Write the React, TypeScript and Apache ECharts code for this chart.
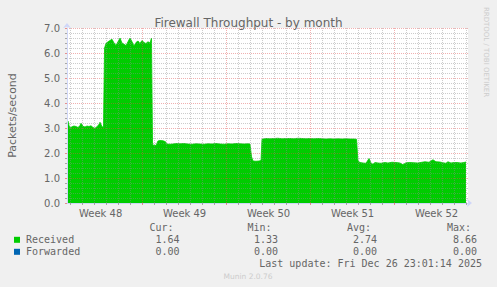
import React, { useEffect, useRef } from 'react';
import * as echarts from 'echarts';

const chartTitle = 'Firewall Throughput - by month';
const yAxisName = 'Packets/second';
const yMin = 0;
const yMax = 7;
const yStep = 1;
const xMin = 0;
const xMax = 33.42; // days shown

// day grid lines (days from left edge of the graph)
const dayLines = [0.3, 1.3, 2.3, 3.3, 4.3, 5.3, 7.3, 8.3, 9.3, 10.3, 11.3, 12.3, 14.3, 15.3, 16.3, 17.3, 18.3, 19.3, 21.3, 22.3, 23.3, 24.3, 25.3, 26.3, 28.3, 29.3, 30.3, 31.3, 32.3, 33.3];
const weekLines = [6.3, 13.3, 20.3, 27.3];
const weekLabelPos = [2.8, 9.8, 16.8, 23.8, 30.8];
const weekLabels = ['Week 48', 'Week 49', 'Week 50', 'Week 51', 'Week 52'];

// Received packets/second: [day, value]
const received: [number, number][] = [
  [0.00, 3.20], [0.08, 3.28], [0.17, 3.10], [0.25, 3.00], [0.42, 3.05], [0.58, 3.08], [0.75, 3.06], [0.92, 3.02],
  [1.08, 3.10], [1.17, 3.19], [1.33, 3.07], [1.50, 3.04], [1.67, 3.08], [1.83, 3.06], [2.00, 3.09], [2.17, 3.02],
  [2.33, 2.99], [2.50, 3.05], [2.67, 3.15], [2.75, 3.23], [2.92, 3.05], [3.04, 3.03], [3.13, 6.20], [3.25, 6.38],
  [3.42, 6.45], [3.58, 6.50], [3.75, 6.55], [3.92, 6.40], [4.08, 6.30], [4.25, 6.45], [4.42, 6.60], [4.58, 6.40],
  [4.75, 6.35], [4.92, 6.30], [5.08, 6.45], [5.25, 6.60], [5.42, 6.45], [5.58, 6.28], [5.75, 6.42], [5.92, 6.48],
  [6.08, 6.38], [6.25, 6.50], [6.42, 6.42], [6.58, 6.38], [6.75, 6.45], [6.92, 6.40], [7.04, 6.60], [7.13, 2.32],
  [7.42, 2.30], [7.58, 2.48], [7.75, 2.50], [8.00, 2.49], [8.21, 2.45], [8.29, 2.36], [8.58, 2.35], [8.83, 2.36],
  [9.08, 2.38], [9.42, 2.37], [9.75, 2.38], [10.08, 2.36], [10.42, 2.35], [10.75, 2.37], [11.08, 2.36], [11.42, 2.35],
  [11.75, 2.37], [12.08, 2.36], [12.42, 2.38], [12.75, 2.36], [13.08, 2.35], [13.42, 2.37], [13.75, 2.36], [14.08, 2.38],
  [14.42, 2.37], [14.75, 2.36], [15.08, 2.37], [15.25, 2.36], [15.38, 1.85], [15.50, 1.68], [15.75, 1.67], [16.00, 1.68],
  [16.17, 1.70], [16.25, 2.55], [16.58, 2.58], [16.92, 2.57], [17.25, 2.58], [17.58, 2.59], [17.92, 2.57], [18.25, 2.58],
  [18.58, 2.58], [18.92, 2.57], [19.25, 2.59], [19.58, 2.58], [19.92, 2.57], [20.25, 2.58], [20.58, 2.57], [20.92, 2.58],
  [21.25, 2.57], [21.58, 2.56], [21.92, 2.57], [22.25, 2.56], [22.58, 2.57], [22.92, 2.56], [23.25, 2.57], [23.58, 2.56],
  [23.92, 2.56], [24.13, 2.55], [24.25, 1.68], [24.42, 1.62], [24.67, 1.60], [24.92, 1.59], [25.17, 1.78], [25.33, 1.60],
  [25.50, 1.55], [25.67, 1.62], [25.92, 1.60], [26.17, 1.59], [26.50, 1.62], [26.75, 1.60], [27.08, 1.63], [27.42, 1.62],
  [27.75, 1.60], [28.00, 1.53], [28.25, 1.61], [28.58, 1.62], [28.92, 1.61], [29.25, 1.60], [29.58, 1.63], [29.83, 1.65],
  [30.17, 1.63], [30.50, 1.73], [30.75, 1.65], [31.08, 1.64], [31.33, 1.61], [31.58, 1.59], [31.75, 1.65], [32.00, 1.60],
  [32.25, 1.62], [32.50, 1.62], [32.83, 1.60], [33.08, 1.62], [33.25, 1.64],
];

const legendNames = ['Received', 'Forwarded'];
const legendColors = ['#00cc00', '#0066b3'];
const statHeaders = ['Cur:', 'Min:', 'Avg:', 'Max:'];
const curValues = ['1.64', '0.00'];
const minValues = ['1.33', '0.00'];
const avgValues = ['2.74', '0.00'];
const maxValues = ['8.66', '0.00'];
const lastUpdate = 'Last update: Fri Dec 26 23:01:14 2025';
const footer = 'Munin 2.0.76';
const sideText = 'RRDTOOL / TOBI OETIKER';

const FONT = '#666666';
const AXIS = '#cfd6f8';
const MINOR = 'rgba(143,143,143,0.45)';
const MAJOR = 'rgba(222,79,79,0.45)';
const SANS = 'DejaVu Sans';
const MONO = 'DejaVu Sans Mono';

export default function App() {
  const ref = useRef<HTMLDivElement>(null);
  useEffect(() => {
    if (!ref.current) return;
    const chart = echarts.init(ref.current, undefined, { renderer: 'svg' });

    const statCols = [
      { header: statHeaders[0], values: curValues, hx: 173.5, vx: 179.5 },
      { header: statHeaders[1], values: minValues, hx: 271.5, vx: 278 },
      { header: statHeaders[2], values: avgValues, hx: 371, vx: 377 },
      { header: statHeaders[3], values: maxValues, hx: 471, vx: 477 },
    ];
    const rowY = [239.5, 251.5];
    const graphics: any[] = [];
    statCols.forEach((c) => {
      graphics.push({ type: 'text', x: c.hx, y: 227.5, style: { text: c.header, fill: FONT, font: `10px "${MONO}"`, textAlign: 'right', textVerticalAlign: 'middle' } });
      c.values.forEach((v, i) => {
        graphics.push({ type: 'text', x: c.vx, y: rowY[i], style: { text: v, fill: FONT, font: `10px "${MONO}"`, textAlign: 'right', textVerticalAlign: 'middle' } });
      });
    });
    legendNames.forEach((n, i) => {
      graphics.push({ type: 'rect', shape: { x: 14, y: rowY[i] - 2.7, width: 6, height: 6 }, style: { fill: legendColors[i] } });
      graphics.push({ type: 'text', x: 26, y: rowY[i], style: { text: n, fill: FONT, font: `10px "${MONO}"`, textAlign: 'left', textVerticalAlign: 'middle' } });
    });
    graphics.push({ type: 'text', x: 482, y: 263.5, style: { text: lastUpdate, fill: FONT, font: `10px "${MONO}"`, textAlign: 'right', textVerticalAlign: 'middle' } });
    graphics.push({ type: 'text', x: 248, y: 276, style: { text: footer, fill: '#cccccc', font: `7.5px "${SANS}"`, textAlign: 'center', textVerticalAlign: 'middle' } });
    graphics.push({ type: 'text', x: 486, y: 52, rotation: -Math.PI / 2, style: { text: sideText, fill: '#cccccc', font: `7px "${SANS}"`, textAlign: 'center', textVerticalAlign: 'middle' } });

    const vLines = [
      ...dayLines.map((d) => ({ xAxis: d, lineStyle: { color: MINOR, type: [1, 1], width: 1 } })),
      ...weekLines.map((d) => ({ xAxis: d, lineStyle: { color: MAJOR, type: [1, 1], width: 1 } })),
    ];

    chart.setOption({
      animation: false,
      backgroundColor: '#f0f0f0',
      title: {
        text: chartTitle,
        left: 'center',
        top: 12,
        textStyle: { color: FONT, fontSize: 12, fontWeight: 'normal', fontFamily: SANS },
      },
      grid: { left: 67, top: 28, width: 401, height: 175, show: true, backgroundColor: '#ffffff', borderWidth: 0, containLabel: false, outerBoundsMode: 'none' },
      xAxis: [
        {
          type: 'value', min: xMin, max: xMax, z: 5,
          axisLine: { show: true, lineStyle: { color: AXIS }, symbol: ['none', 'arrow'], symbolSize: [6, 5], symbolOffset: [0, 4] },
          axisTick: { show: true, customValues: dayLines, length: 2, lineStyle: { color: 'rgba(143,143,143,0.75)' } },
          axisLabel: { show: false },
          splitLine: { show: false },
        },
        {
          type: 'value', min: xMin, max: xMax, position: 'bottom', z: 6,
          axisLine: { show: false },
          axisTick: { show: true, customValues: weekLines, length: 2, lineStyle: { color: 'rgba(222,79,79,0.6)' } },
          axisLabel: {
            show: true, customValues: weekLabelPos, margin: 5, color: FONT, fontSize: 10, fontFamily: SANS,
            formatter: (v: number) => {
              let best = 0;
              weekLabelPos.forEach((p, i) => { if (Math.abs(p - v) < Math.abs(weekLabelPos[best] - v)) best = i; });
              return weekLabels[best];
            },
          },
          splitLine: { show: false },
        },
      ],
      yAxis: {
        type: 'value', min: yMin, max: yMax, interval: yStep, z: 5,
        name: yAxisName, nameLocation: 'middle', nameGap: 49, nameRotate: 90,
        nameTextStyle: { color: FONT, fontSize: 11, fontFamily: SANS },
        axisLine: { show: true, lineStyle: { color: AXIS }, symbol: ['none', 'arrow'], symbolSize: [6, 5], symbolOffset: [0, 5] },
        axisTick: { show: true, length: 2, lineStyle: { color: 'rgba(222,79,79,0.6)' } },
        minorTick: { show: true, splitNumber: 5, length: 2, lineStyle: { color: 'rgba(143,143,143,0.75)' } },
        splitLine: { show: true, lineStyle: { color: MAJOR, type: [1, 1] } },
        minorSplitLine: { show: true, lineStyle: { color: MINOR, type: [1, 1] } },
        axisLabel: { formatter: (v: number) => v.toFixed(1), color: FONT, fontSize: 10, fontFamily: SANS, margin: 7 },
      },
      series: [
        {
          name: legendNames[0],
          type: 'line',
          xAxisIndex: 0,
          data: received,
          showSymbol: false,
          symbol: 'none',
          z: 2,
          lineStyle: { color: legendColors[0], width: 0.8 },
          areaStyle: { color: legendColors[0], opacity: 1 },
          markLine: {
            silent: true,
            symbol: ['none', 'none'],
            label: { show: false },
            data: vLines,
          },
        },
      ],
      graphic: graphics,
    });
    return () => chart.dispose();
  }, []);
  return <div ref={ref} style={{ position: 'fixed', left: 0, top: 0, width: 497, height: 287 }} />;
}
